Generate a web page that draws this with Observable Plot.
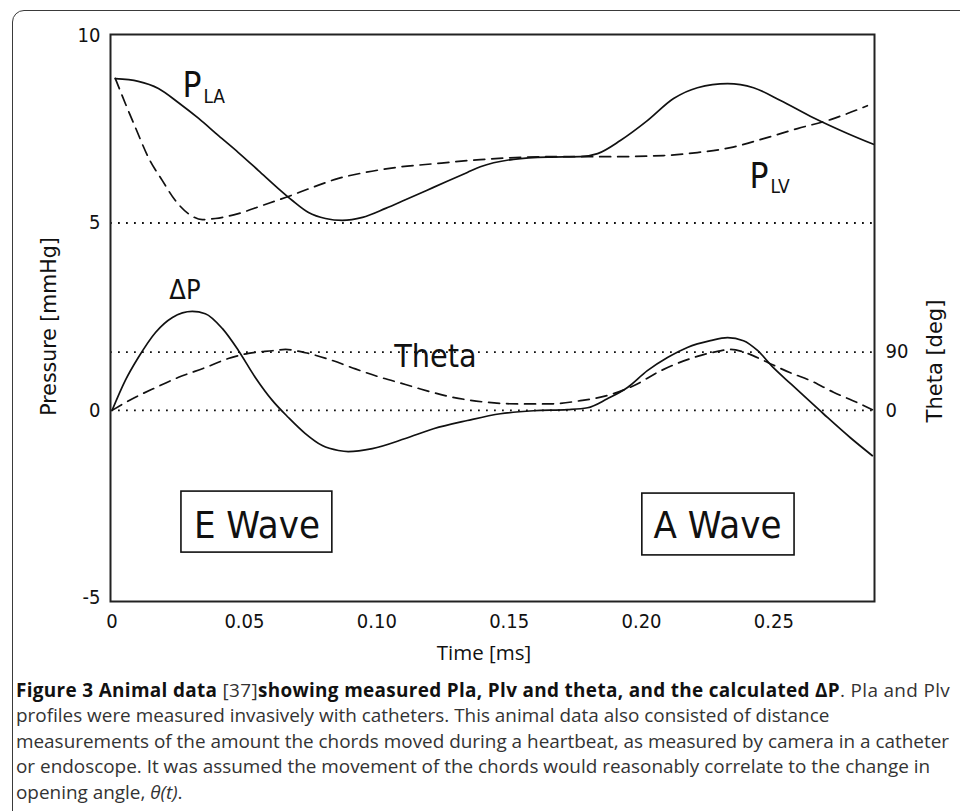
<!DOCTYPE html>
<html>
<head>
<meta charset="utf-8">
<script src="https://cdn.jsdelivr.net/npm/d3@7"></script>
<script src="https://cdn.jsdelivr.net/npm/@observablehq/plot@0.6"></script>
<style>
  body { margin: 0; background: #fff; width: 960px; height: 811px; overflow: hidden; position: relative; }
  #chart { position: absolute; left: 0; top: 0; }
  #cap { position: absolute; left: 0; top: 0; }
  #frame { position: absolute; left: 12px; top: 10px; width: 1000px; height: 1000px; border: 1.5px solid #3a3a3a;
           border-radius: 12px; pointer-events: none; box-sizing: border-box; }
</style>
</head>
<body>
<div id="chart"></div>
<svg id="cap" width="960" height="811"></svg>
<div id="frame"></div>
<script>
// ---------- data ----------
// Time [ms]
const timePLA = [0.0012, 0.0099, 0.0175, 0.0251, 0.0327, 0.0402, 0.0477, 0.0553, 0.0628, 0.0681, 0.0742, 0.0806, 0.0870, 0.0946, 0.1033, 0.1108, 0.1214, 0.1342, 0.1391, 0.1516, 0.1645, 0.1769, 0.1834, 0.1920, 0.2022, 0.2121, 0.2211, 0.2325, 0.2423, 0.2525, 0.2649, 0.2778, 0.2876];
const valuesPLA = [8.85, 8.78, 8.59, 8.21, 7.79, 7.33, 6.88, 6.40, 5.92, 5.60, 5.28, 5.12, 5.07, 5.15, 5.39, 5.62, 5.95, 6.35, 6.50, 6.70, 6.76, 6.77, 6.85, 7.20, 7.73, 8.32, 8.61, 8.72, 8.61, 8.27, 7.81, 7.39, 7.10];

const timePLV = [0.0012, 0.0050, 0.0088, 0.0137, 0.0190, 0.0239, 0.0288, 0.0341, 0.0390, 0.0477, 0.0568, 0.0655, 0.0757, 0.0855, 0.0957, 0.1070, 0.1214, 0.1391, 0.1645, 0.1894, 0.2083, 0.2211, 0.2336, 0.2461, 0.2589, 0.2714, 0.2778, 0.2853];
const valuesPLV = [8.86, 8.19, 7.55, 6.75, 6.13, 5.60, 5.25, 5.09, 5.12, 5.25, 5.47, 5.68, 5.95, 6.19, 6.35, 6.48, 6.58, 6.69, 6.77, 6.77, 6.80, 6.88, 7.01, 7.25, 7.52, 7.76, 7.92, 8.13];

const timeDeltaP = [0, 0.0050, 0.0099, 0.0164, 0.0228, 0.0303, 0.0352, 0.0417, 0.0477, 0.0541, 0.0606, 0.0666, 0.0730, 0.0794, 0.0855, 0.0892, 0.0983, 0.1108, 0.1214, 0.1342, 0.1467, 0.1592, 0.1720, 0.1796, 0.1871, 0.1947, 0.2022, 0.2098, 0.2173, 0.2260, 0.2325, 0.2385, 0.2438, 0.2498, 0.2562, 0.2687, 0.2789, 0.2872];
const valuesDeltaP = [0, 0.80, 1.41, 2.08, 2.48, 2.64, 2.58, 2.18, 1.60, 0.88, 0.26, -0.19, -0.62, -0.94, -1.07, -1.10, -1.02, -0.75, -0.49, -0.27, -0.09, -0.01, 0.02, 0.07, 0.31, 0.61, 1.06, 1.41, 1.68, 1.86, 1.94, 1.86, 1.60, 1.14, 0.72, -0.09, -0.73, -1.21];

const timeTheta = [0, 0.0077, 0.0164, 0.0251, 0.0352, 0.0439, 0.0515, 0.0606, 0.0655, 0.0730, 0.0832, 0.0919, 0.1006, 0.1108, 0.1165, 0.1278, 0.1403, 0.1531, 0.1656, 0.1769, 0.1871, 0.1970, 0.2072, 0.2185, 0.2287, 0.2336, 0.2400, 0.2461, 0.2562, 0.2638, 0.2725, 0.2815, 0.2872];
const valuesThetaDeg = [0, 18, 35, 51, 66, 80, 88, 92, 94, 89, 77, 64, 52, 40, 33, 21, 13, 10, 10, 15, 23, 38, 61, 80, 91, 94, 88, 77, 58, 46, 28, 12, 1];

const pressureTicks = [-5, 0, 5, 10];
const pressureGuides = [0, 5];
const thetaTicks = [0, 90];
const thetaGuides = [90];
const timeTicks = [0, 0.05, 0.10, 0.15, 0.20, 0.25];

const xLabel = "Time [ms]";
const yLabel = "Pressure [mmHg]";
const y2Label = "Theta [deg]";

const captionLines = [
  [["Figure 3 Animal data", "b"], [" [37]", ""], ["showing measured Pla, Plv and theta, and the calculated ΔP", "b"], [". Pla and Plv", ""]],
  [["profiles were measured invasively with catheters. This animal data also consisted of distance", ""]],
  [["measurements of the amount the chords moved during a heartbeat, as measured by camera in a catheter", ""]],
  [["or endoscope. It was assumed the movement of the chords would reasonably correlate to the change in", ""]],
  [["opening angle, ", ""], ["θ(t)", "i"], [".", ""]]
];

// ---------- build ----------
const thetaPerPressure = 1.556 / 90;   // right axis: 90 deg sits at 1.556 on the pressure scale
const rows = (ts, vs, f = (v) => v) => ts.map((t, i) => ({t, v: f(vs[i])}));
const pla = rows(timePLA, valuesPLA);
const plv = rows(timePLV, valuesPLV);
const dp = rows(timeDeltaP, valuesDeltaP);
const theta = rows(timeTheta, valuesThetaDeg, (d) => d * thetaPerPressure);

const FONT = "'DejaVu Sans Condensed', 'DejaVu Sans', sans-serif";
const TITLEFONT = "'DejaVu Sans', sans-serif";
const CAPFONT = "'Open Sans', 'Noto Sans', sans-serif";
const ink = "#111";
const CURVE = "monotone-x";

const chart = Plot.plot({
  width: 960,
  height: 672,
  marginLeft: 110,
  marginRight: 86,
  marginTop: 34,
  marginBottom: 71,
  x: {domain: [-0.0006, 0.288]},
  y: {domain: [-5.10, 10.03]},
  style: {fontFamily: FONT, fontSize: "20px", color: ink, background: "transparent"},
  marks: [
    Plot.ruleY(pressureGuides, {stroke: ink, strokeWidth: 1.8, strokeDasharray: "1.8,6.2"}),
    Plot.ruleY(thetaGuides, {y: (d) => d * thetaPerPressure, stroke: ink, strokeWidth: 1.8, strokeDasharray: "1.8,6.2"}),
    Plot.line(pla, {x: "t", y: "v", curve: CURVE, stroke: ink, strokeWidth: 1.7}),
    Plot.line(plv, {x: "t", y: "v", curve: CURVE, stroke: ink, strokeWidth: 1.7, strokeDasharray: "11,7"}),
    Plot.line(dp, {x: "t", y: "v", curve: CURVE, stroke: ink, strokeWidth: 1.7}),
    Plot.line(theta, {x: "t", y: "v", curve: CURVE, stroke: ink, strokeWidth: 1.7, strokeDasharray: "11,7"}),
    // wave boxes
    Plot.rect([{x1: 0.0262, x2: 0.0832, y1: -3.795, y2: -2.167}], {x1: "x1", x2: "x2", y1: "y1", y2: "y2", fill: "white", stroke: ink, strokeWidth: 1.6}),
    Plot.rect([{x1: 0.2003, x2: 0.2578, y1: -3.87, y2: -2.22}], {x1: "x1", x2: "x2", y1: "y1", y2: "y2", fill: "white", stroke: ink, strokeWidth: 1.6}),
    Plot.text(["E Wave"], {x: 0.0547, y: -3.395, text: (d) => d, fontSize: 38, lineAnchor: "bottom", textAnchor: "middle", fill: ink}),
    Plot.text(["A Wave"], {x: 0.2287, y: -3.395, text: (d) => d, fontSize: 38, lineAnchor: "bottom", textAnchor: "middle", fill: ink}),
    // curve labels
    Plot.text(["P"], {x: 0.0266, y: 8.37, text: (d) => d, fontSize: 35, lineAnchor: "bottom", textAnchor: "start", fill: ink}),
    Plot.text(["LA"], {x: 0.0345, y: 8.21, text: (d) => d, fontSize: 19, lineAnchor: "bottom", textAnchor: "start", fill: ink}),
    Plot.text(["P"], {x: 0.2408, y: 5.94, text: (d) => d, fontSize: 35, lineAnchor: "bottom", textAnchor: "start", fill: ink}),
    Plot.text(["LV"], {x: 0.2487, y: 5.79, text: (d) => d, fontSize: 19, lineAnchor: "bottom", textAnchor: "start", fill: ink}),
    Plot.text(["ΔP"], {x: 0.0216, y: 2.98, text: (d) => d, fontSize: 27, lineAnchor: "bottom", textAnchor: "start", fill: ink}),
    Plot.text(["Theta"], {x: 0.1066, y: 1.17, text: (d) => d, fontSize: 32, lineAnchor: "bottom", textAnchor: "start", fill: ink}),
    // axes
    Plot.axisY({ticks: pressureTicks, tickSize: 0, tickPadding: 10, fontSize: 20, tickFormat: (d) => String(d), label: null}),
    Plot.axisY({anchor: "right", ticks: thetaTicks.map((d) => d * thetaPerPressure), tickSize: 0, tickPadding: 11, fontSize: 20,
                tickFormat: (d) => String(Math.round(d / thetaPerPressure)), label: null}),
    Plot.axisX({ticks: timeTicks, tickSize: 0, tickPadding: 12, fontSize: 20,
                tickFormat: (d) => d === 0 ? "0" : d3.format(".2f")(d), label: null}),
    Plot.text([yLabel], {frameAnchor: "left", text: (d) => d, rotate: -90, dx: -61, dy: 8.5, fontSize: 20.5, fontFamily: TITLEFONT,
                         textAnchor: "middle", lineAnchor: "middle", fill: ink}),
    Plot.text([y2Label], {frameAnchor: "right", text: (d) => d, rotate: -90, dx: 61, dy: 43, fontSize: 21, fontFamily: TITLEFONT,
                          textAnchor: "middle", lineAnchor: "middle", fill: ink}),
    Plot.text([xLabel], {frameAnchor: "bottom", text: (d) => d, dx: -8.5, dy: 51.5, fontSize: 20.5, fontFamily: CAPFONT,
                         textAnchor: "middle", lineAnchor: "middle", fill: ink}),
    Plot.frame({stroke: "#222", strokeWidth: 2})
  ]
});
document.getElementById("chart").appendChild(chart);

// ---------- caption ----------
const cap = d3.select("#cap");
const baselines = [697, 722, 748, 773, 799];
const texts = captionLines.map((segs, i) => {
  const t = cap.append("text").attr("x", 16).attr("y", baselines[i])
    .attr("font-family", CAPFONT).attr("font-size", 18).attr("fill", "#333").attr("xml:space", "preserve")
    .style("white-space", "pre");
  segs.forEach(([s, f]) => {
    const ts = t.append("tspan").text(s);
    if (f === "b") ts.attr("font-weight", 700).attr("fill", "#111");
    if (f === "i") ts.attr("font-style", "italic");
  });
  return t;
});
const w = texts[2].node().getComputedTextLength();
const fs = 18 * 934 / w;
texts.forEach((t) => t.attr("font-size", fs));
// first line is slightly wider in the reference: spread it to the same right edge
const w1 = texts[0].node().getComputedTextLength();
const n1 = captionLines[0].map((s) => s[0]).join("").length;
if (w1 < 934) texts[0].attr("letter-spacing", ((934 - w1) / n1).toFixed(3));
</script>
</body>
</html>
